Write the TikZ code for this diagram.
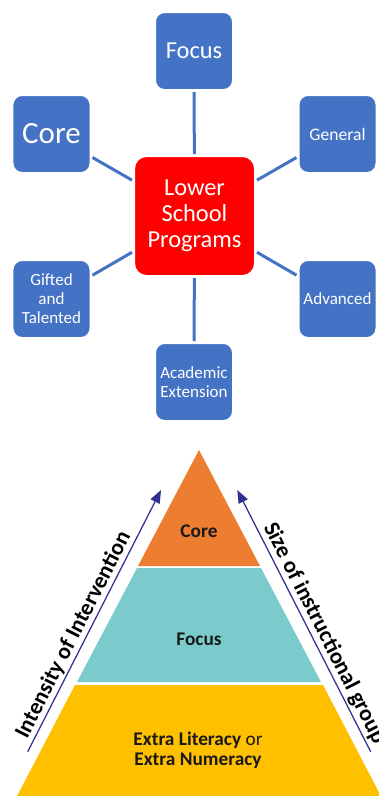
\documentclass[tikz,border=0pt]{standalone}
\usepackage{fontspec}
\setmainfont{Carlito}
\usetikzlibrary{arrows.meta, positioning}
\definecolor{boxblue}{HTML}{4472C4}
\definecolor{hubred}{HTML}{FF0000}
\definecolor{coreorange}{HTML}{ED7D31}
\definecolor{focusteal}{HTML}{7BCBCD}
\definecolor{extrayellow}{HTML}{FFC000}
\definecolor{arrownavy}{HTML}{2E3192}

\begin{document}
\begin{tikzpicture}[x=0.2mm, y=-0.2mm, >={Triangle[length=2.6mm,width=2mm]},
  prog/.style={draw=white, line width=0.6mm, fill=boxblue, rounded corners=2mm,
    minimum width=15.8mm, minimum height=15.8mm, text=white, align=center,
    inner sep=0pt, font=\fontsize{9.7}{10.8}\selectfont},
  hub/.style={prog, fill=hubred, rounded corners=2.6mm, minimum width=24.4mm,
    minimum height=24.2mm, font=\fontsize{13.9}{14.8}\selectfont},
  spoke/.style={boxblue, line width=0.6mm},
  tier/.style={text=black!90, font=\bfseries\fontsize{11}{11.4}\selectfont, align=center},
  axis/.style={->, arrownavy, line width=0.25mm},
  axislabel/.style={sloped, above, inner sep=1pt, text=black,
    font=\bfseries\fontsize{12.9}{13}\selectfont}]
  % frame
  \useasboundingbox (0,0) rectangle (379,796);
  \clip (0,0) rectangle (379,796);
  % hub and the six programs
  \node[hub] (hub) at (194.5,216) {Lower\\School\\Programs};
  \node[prog, font=\fontsize{13.9}{15}\selectfont] (focus) at (194,51) {Focus};
  \node[prog, font=\fontsize{17.6}{19}\selectfont] (core) at (51.5,134) {Core};
  \node[prog, font=\fontsize{10}{11}\selectfont] (general) at (337.5,134) {General};
  \node[prog] (gifted) at (51.5,299) {Gifted\\and\\Talented};
  \node[prog] (advanced) at (337.5,299) {Advanced};
  \node[prog] (academic) at (194,382) {Academic\\Extension};
  % spokes
  \foreach \p in {focus, core, general, gifted, advanced, academic}
    \draw[spoke] (hub) -- (\p);
  % pyramid tiers
  \fill[coreorange] (199,450) -- (260,566) -- (138,566) -- cycle;
  \fill[focusteal] (137,568) -- (261,568) -- (321,682) -- (77,682) -- cycle;
  \fill[extrayellow] (75,685) -- (323,685) -- (383,800) -- (15,800) -- cycle;
  \node[tier] (tcore) at (199,531) {Core};
  \node[tier] (tfocus) at (199,639) {Focus};
  \node[tier] (textra) at (198,750) {Extra Literacy {\mdseries or}\\Extra Numeracy};
  % side arrows
  \coordinate (ltail) at (27.7,751.7);
  \coordinate (ltip) at (161,490);
  \coordinate (rtail) at (370.7,751.7);
  \coordinate (rtip) at (237.3,490);
  \draw[axis] (ltail) -- node[axislabel, pos=0.425] (intensity) {Intensity of Intervention} (ltip);
  \draw[axis] (rtail) -- node[axislabel, pos=0.43] (groupsize) {Size of instructional group} (rtip);
\end{tikzpicture}
\end{document}
